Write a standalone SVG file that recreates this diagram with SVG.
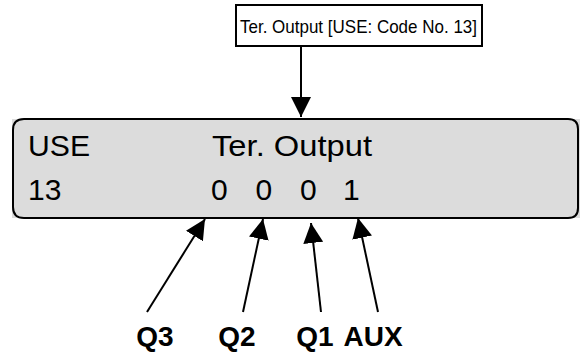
<svg xmlns="http://www.w3.org/2000/svg" width="580" height="352" viewBox="0 0 580 352">
<defs>
<style>
.t{font-family:"Liberation Sans",Arial,sans-serif;fill:#000}
.big{font-size:30px}
.lbl{font-size:28px;font-weight:bold;text-anchor:middle}
.ln{stroke:#000;stroke-width:2;fill:none}
</style>
<marker id="ah2" viewBox="0 0 10 10" refX="10" refY="5" markerWidth="20" markerHeight="20" markerUnits="userSpaceOnUse" orient="auto">
<path d="M0,0 L10,5 L0,10 Z" fill="#000"/>
</marker>
</defs>
<g id="title">
<rect x="236" y="5" width="246" height="41" fill="#fff" stroke="#000" stroke-width="2"/>
<text class="t" x="240" y="33" font-size="19" textLength="237" lengthAdjust="spacingAndGlyphs">Ter. Output [USE: Code No. 13]</text>
</g>
<g id="display">
<rect x="12" y="119" width="568" height="99" fill="#dcdcdc"/>
<path d="M24,119 H568 Q578,119 578,129 V208 Q578,218 568,218 H24 Q13,218 13,207 V130 Q13,119 24,119 Z" fill="#dcdcdc" stroke="#000" stroke-width="2"/>
<text class="t big" x="28" y="156" textLength="62" lengthAdjust="spacingAndGlyphs">USE</text>
<text class="t big" x="212" y="156" textLength="160" lengthAdjust="spacingAndGlyphs">Ter. Output</text>
<text class="t big" x="28" y="200">13</text>
<text class="t big" x="211" y="200">0</text>
<text class="t big" x="255.5" y="200">0</text>
<text class="t big" x="300" y="200">0</text>
<text class="t big" x="343" y="200">1</text>
</g>
<g id="labels">
<text class="t lbl" x="155" y="346">Q3</text>
<text class="t lbl" x="237" y="346">Q2</text>
<text class="t lbl" x="315" y="346">Q1</text>
<text class="t lbl" x="373" y="346">AUX</text>
</g>
<g id="connectors">
<line class="ln" x1="301" y1="46" x2="301" y2="117" marker-end="url(#ah2)"/>
<line class="ln" x1="147" y1="312" x2="205" y2="219" marker-end="url(#ah2)"/>
<line class="ln" x1="243" y1="312" x2="263" y2="219" marker-end="url(#ah2)"/>
<line class="ln" x1="321" y1="312" x2="311" y2="223" marker-end="url(#ah2)"/>
<line class="ln" x1="378" y1="312" x2="358" y2="218" marker-end="url(#ah2)"/>
</g>
</svg>
